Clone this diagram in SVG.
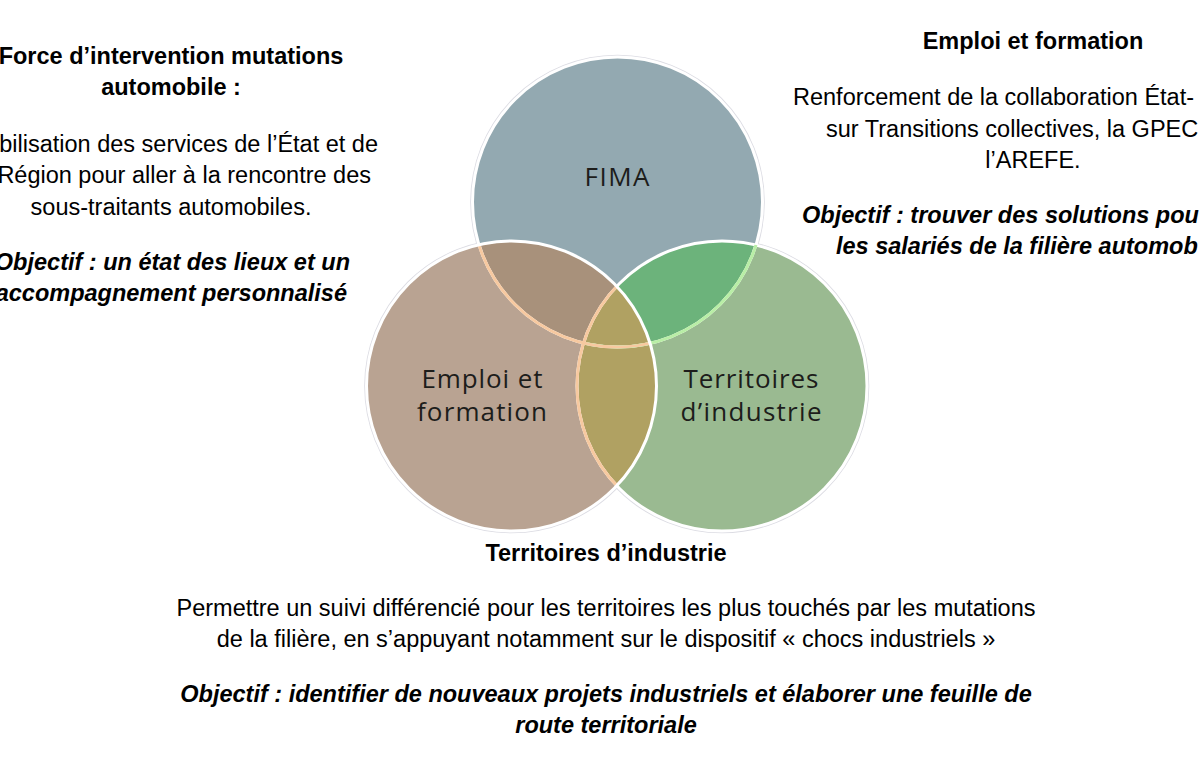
<svg xmlns="http://www.w3.org/2000/svg" width="1200" height="766" viewBox="0 0 1200 766">
<style>
.t{font-family:"Liberation Sans",Arial,sans-serif;font-size:23.5px;fill:#000}
.b{font-weight:bold}
.bi{font-weight:bold;font-style:italic}
.c{text-anchor:middle}
.e{text-anchor:end}
.lab{font-family:"Open Sans","Noto Sans",sans-serif;font-size:26px;fill:#1d1d1b;text-anchor:middle}
.halo{fill:none;stroke:#dcdce3;stroke-width:4.6}
.wh{fill:none;stroke:#fff;stroke-width:3}
.pe{fill:none;stroke:#f7c9a0;stroke-width:3}
.gr{fill:none;stroke:#b9eea6;stroke-width:3}
</style>
<defs>
<circle id="cf" cx="617.5" cy="202" r="145"/>
<circle id="ce" cx="511.5" cy="386" r="145"/>
<circle id="ct" cx="722" cy="386" r="145"/>
<clipPath id="clipF"><use href="#cf"/></clipPath>
<clipPath id="clipE"><use href="#ce"/></clipPath>
<clipPath id="clipT"><use href="#ct"/></clipPath>
</defs>
<rect width="1200" height="766" fill="#fff"/>

<g id="halos">
<use href="#cf" class="halo"/>
<use href="#ce" class="halo"/>
<use href="#ct" class="halo"/>
</g>

<g id="fima">
<use href="#cf" fill="#93a9b1"/>
<text class="lab" x="617" y="186" textLength="65" lengthAdjust="spacing">FIMA</text>
</g>
<g id="territoires-circle">
<use href="#ct" fill="#9aba91"/>
<text class="lab" x="751" y="388" textLength="135" lengthAdjust="spacing">Territoires</text>
<text class="lab" x="751" y="421" textLength="141" lengthAdjust="spacing">d’industrie</text>
</g>
<g id="emploi-circle">
<use href="#ce" fill="#b9a392"/>
<text class="lab" x="482" y="388" textLength="121" lengthAdjust="spacing">Emploi et</text>
<text class="lab" x="482" y="421" textLength="130" lengthAdjust="spacing">formation</text>
</g>

<g id="overlaps">
<use href="#ce" fill="#a8917b" clip-path="url(#clipF)"/>
<use href="#ct" fill="#6cb37b" clip-path="url(#clipF)"/>
<use href="#ct" fill="#b0a162" clip-path="url(#clipE)"/>
</g>

<g id="outlines">
<use href="#cf" class="wh"/>
<use href="#ct" class="wh"/>
<use href="#cf" class="gr" clip-path="url(#clipT)"/>
<use href="#cf" class="pe" clip-path="url(#clipE)"/>
<use href="#ct" class="pe" clip-path="url(#clipE)"/>
<use href="#ce" class="wh"/>
</g>

<g id="text-left" class="t">
<text class="b c" x="171" y="64">Force d’intervention mutations</text>
<text class="b c" x="171" y="95">automobile :</text>
<text class="e" x="378" y="152">bilisation des services de l’État et de</text>
<text class="e" x="371" y="183">Région pour aller à la rencontre des</text>
<text class="c" x="171" y="215">sous-traitants automobiles.</text>
<text class="bi e" x="350" y="270">Objectif : un état des lieux et un</text>
<text class="bi e" x="347" y="301">accompagnement personnalisé</text>
</g>

<g id="text-right" class="t">
<text class="b c" x="1033" y="49">Emploi et formation</text>
<text x="793" y="105">Renforcement de la collaboration État-</text>
<text x="826" y="137">sur Transitions collectives, la GPEC</text>
<text class="c" x="1033" y="168">l’AREFE.</text>
<text class="bi" x="802" y="223">Objectif : trouver des solutions pou</text>
<text class="bi" x="836" y="254">les salariés de la filière automob</text>
</g>

<g id="text-bottom" class="t">
<text class="b c" x="606" y="561">Territoires d’industrie</text>
<text class="c" x="606" y="616">Permettre un suivi différencié pour les territoires les plus touchés par les mutations</text>
<text class="c" x="606" y="647">de la filière, en s’appuyant notamment sur le dispositif « chocs industriels »</text>
<text class="bi c" x="606" y="702">Objectif : identifier de nouveaux projets industriels et élaborer une feuille de</text>
<text class="bi c" x="606" y="733">route territoriale</text>
</g>
</svg>
